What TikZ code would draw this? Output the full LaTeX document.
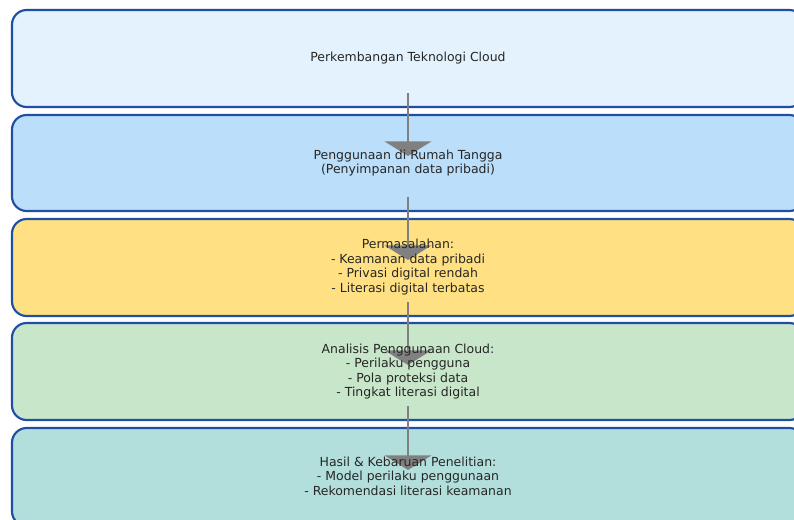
\documentclass[tikz,border=0pt]{standalone}
\usepackage{fontspec}
\setmainfont{DejaVu Sans}
\usetikzlibrary{arrows.meta}
\definecolor{bordc}{HTML}{1F4FA3}
\definecolor{c1}{HTML}{E3F2FD}
\definecolor{c2}{HTML}{BBDEFB}
\definecolor{c3}{HTML}{FFE082}
\definecolor{c4}{HTML}{C8E6C9}
\definecolor{c5}{HTML}{B2DFDB}
\definecolor{arrc}{HTML}{808080}
\tikzset{
  boxst/.style={draw=bordc, line width=1.6pt, rounded corners=11pt},
  txt/.style={align=center, font=\fontsize{9.35}{10.9}\selectfont, text=black!85, inner sep=0pt},
  flowarrow/.style={draw=arrc, line width=2.2pt, -{Triangle[width=35pt,length=11pt]}}
}
\begin{document}
\begin{tikzpicture}[x=0.75pt,y=-0.75pt]
\useasboundingbox (0,0) rectangle (794,519);
\clip (0,0) rectangle (794,519);
\fill[white] (0,0) rectangle (794,519);
\draw[boxst, fill=c1] (12,10) rectangle (804,107);
\draw[boxst, fill=c2] (12,115) rectangle (804,211);
\draw[boxst, fill=c3] (12,219) rectangle (804,316);
\draw[boxst, fill=c4] (12,323) rectangle (804,420);
\draw[boxst, fill=c5] (12,428) rectangle (804,526);
\coordinate (s1) at (408,93);  \coordinate (e1) at (408,156);
\coordinate (s2) at (408,197); \coordinate (e2) at (408,260);
\coordinate (s3) at (408,302); \coordinate (e3) at (408,365);
\coordinate (s4) at (408,406); \coordinate (e4) at (408,470);
\draw[flowarrow] (s1) -- (e1);
\draw[flowarrow] (s2) -- (e2);
\draw[flowarrow] (s3) -- (e3);
\draw[flowarrow] (s4) -- (e4);
\node[txt] (t1) at (408,58.5) {Perkembangan Teknologi Cloud};
\node[txt] (t2) at (408,163) {Penggunaan di Rumah Tangga\\(Penyimpanan data pribadi)};
\node[txt] (t3) at (408,267) {Permasalahan:\\- Keamanan data pribadi\\- Privasi digital rendah\\- Literasi digital terbatas};
\node[txt] (t4) at (408,371.5) {Analisis Penggunaan Cloud:\\- Perilaku pengguna\\- Pola proteksi data\\- Tingkat literasi digital};
\node[txt] (t5) at (408,476) {Hasil \& Kebaruan Penelitian:\\- Model perilaku penggunaan\\- Rekomendasi literasi keamanan};
\end{tikzpicture}
\end{document}
